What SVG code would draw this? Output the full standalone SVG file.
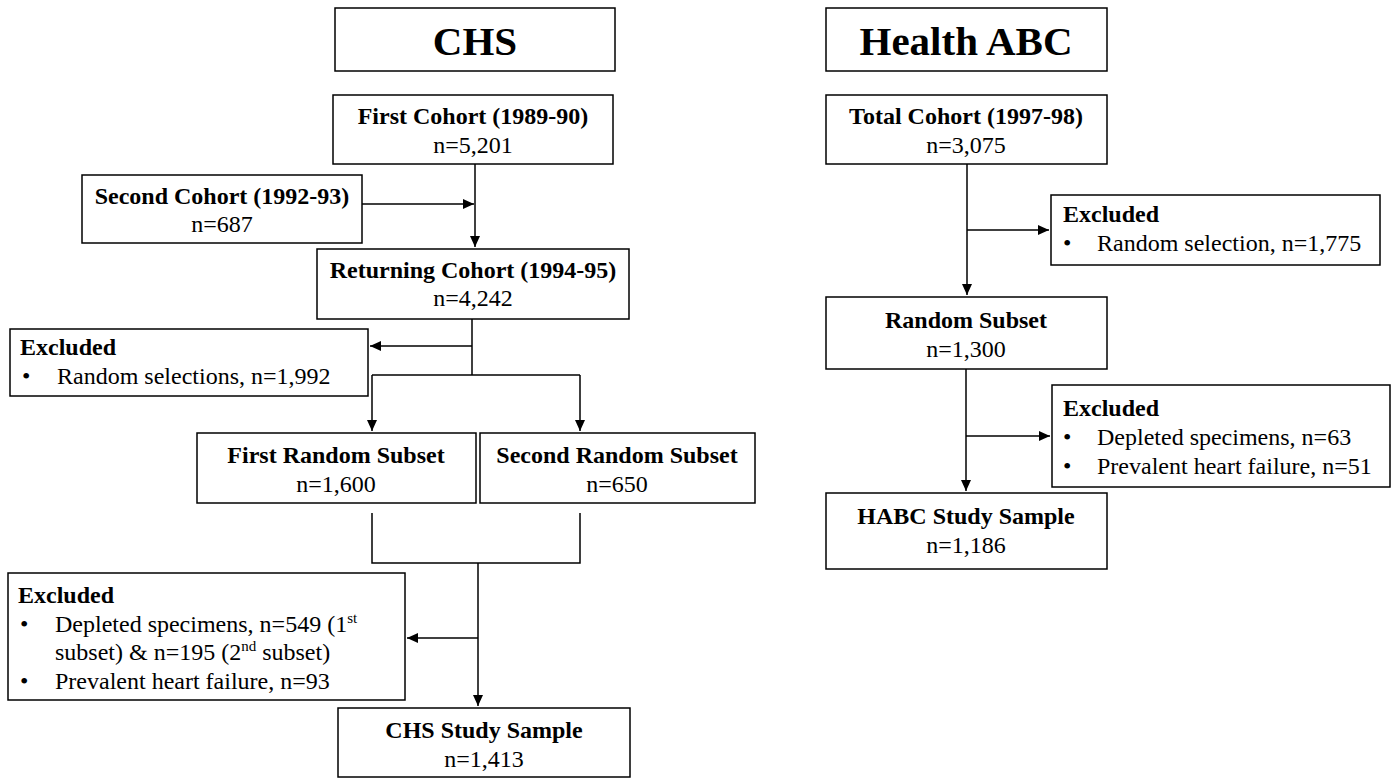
<svg xmlns="http://www.w3.org/2000/svg" width="1398" height="778" viewBox="0 0 1398 778">
<style>
.box{fill:#fff;stroke:#000;stroke-width:1.5}
.t{font-family:"Liberation Serif","Times New Roman",serif;font-size:24px;fill:#000}
.b{font-weight:bold}
.title{font-family:"Liberation Serif","Times New Roman",serif;font-size:41px;font-weight:bold;fill:#000}
.c{text-anchor:middle}
.ln{fill:none;stroke:#000;stroke-width:1.5}
.sup{font-size:15px}
</style>
<defs>
<marker id="ah" markerUnits="userSpaceOnUse" markerWidth="12" markerHeight="10" refX="11" refY="5" orient="auto">
<path d="M0,0 L11,5 L0,10 Z" fill="#000"/>
</marker>
</defs>
<rect width="1398" height="778" fill="#fff"/>
<g id="connectors">
<path class="ln" d="M475,164 V247" marker-end="url(#ah)"/>
<path class="ln" d="M362,204 H474" marker-end="url(#ah)"/>
<path class="ln" d="M472,319 V375"/>
<path class="ln" d="M472,346 H370" marker-end="url(#ah)"/>
<path class="ln" d="M372,375 H580"/>
<path class="ln" d="M372,375 V431" marker-end="url(#ah)"/>
<path class="ln" d="M580,375 V431" marker-end="url(#ah)"/>
<path class="ln" d="M372,513 V563 H580 V513"/>
<path class="ln" d="M478,563 V706" marker-end="url(#ah)"/>
<path class="ln" d="M478,638 H407" marker-end="url(#ah)"/>
<path class="ln" d="M967,164 V295" marker-end="url(#ah)"/>
<path class="ln" d="M967,230 H1049" marker-end="url(#ah)"/>
<path class="ln" d="M966,369 V491" marker-end="url(#ah)"/>
<path class="ln" d="M966,436 H1050" marker-end="url(#ah)"/>
</g>
<g id="chs-title">
<rect class="box" x="335" y="8" width="280" height="63"/>
<text class="title c" x="475" y="55">CHS</text>
</g>
<g id="habc-title">
<rect class="box" x="826" y="8" width="281" height="63"/>
<text class="title c" x="966" y="55">Health ABC</text>
</g>
<g id="first-cohort">
<rect class="box" x="333" y="95" width="280" height="69"/>
<text class="t b c" x="473" y="124">First Cohort (1989-90)</text>
<text class="t c" x="473" y="153">n=5,201</text>
</g>
<g id="second-cohort">
<rect class="box" x="82" y="175" width="280" height="68"/>
<text class="t b c" x="222" y="204">Second Cohort (1992-93)</text>
<text class="t c" x="222" y="232">n=687</text>
</g>
<g id="returning-cohort">
<rect class="box" x="317" y="249" width="312" height="70"/>
<text class="t b c" x="473" y="278">Returning Cohort (1994-95)</text>
<text class="t c" x="473" y="306">n=4,242</text>
</g>
<g id="chs-excluded-1">
<rect class="box" x="10" y="329" width="358" height="67"/>
<text class="t b" x="20" y="355">Excluded</text>
<text class="t" x="22" y="384">•</text>
<text class="t" x="57" y="384">Random selections, n=1,992</text>
</g>
<g id="first-random-subset">
<rect class="box" x="197" y="433" width="279" height="70"/>
<text class="t b c" x="336" y="463">First Random Subset</text>
<text class="t c" x="336" y="492">n=1,600</text>
</g>
<g id="second-random-subset">
<rect class="box" x="480" y="433" width="275" height="70"/>
<text class="t b c" x="617" y="463">Second Random Subset</text>
<text class="t c" x="617" y="492">n=650</text>
</g>
<g id="chs-excluded-2">
<rect class="box" x="8" y="573" width="397" height="127"/>
<text class="t b" x="18" y="603">Excluded</text>
<text class="t" x="20" y="632">•</text>
<text class="t" x="55" y="632">Depleted specimens, n=549 (1<tspan class="sup" dy="-9">st</tspan></text>
<text class="t" x="55" y="660">subset) &amp; n=195 (2<tspan class="sup" dy="-9">nd</tspan><tspan dy="9"> subset)</tspan></text>
<text class="t" x="20" y="689">•</text>
<text class="t" x="55" y="689">Prevalent heart failure, n=93</text>
</g>
<g id="chs-study-sample">
<rect class="box" x="338" y="708" width="292" height="69"/>
<text class="t b c" x="484" y="738">CHS Study Sample</text>
<text class="t c" x="484" y="767">n=1,413</text>
</g>
<g id="total-cohort">
<rect class="box" x="826" y="95" width="281" height="69"/>
<text class="t b c" x="966" y="124">Total Cohort (1997-98)</text>
<text class="t c" x="966" y="153">n=3,075</text>
</g>
<g id="habc-excluded-1">
<rect class="box" x="1051" y="195" width="329" height="70"/>
<text class="t b" x="1063" y="222">Excluded</text>
<text class="t" x="1063" y="251">•</text>
<text class="t" x="1097" y="251">Random selection, n=1,775</text>
</g>
<g id="random-subset">
<rect class="box" x="826" y="297" width="281" height="72"/>
<text class="t b c" x="966" y="328">Random Subset</text>
<text class="t c" x="966" y="357">n=1,300</text>
</g>
<g id="habc-excluded-2">
<rect class="box" x="1052" y="385" width="338" height="102"/>
<text class="t b" x="1063" y="416">Excluded</text>
<text class="t" x="1063" y="445">•</text>
<text class="t" x="1097" y="445">Depleted specimens, n=63</text>
<text class="t" x="1063" y="474">•</text>
<text class="t" x="1097" y="474">Prevalent heart failure, n=51</text>
</g>
<g id="habc-study-sample">
<rect class="box" x="826" y="493" width="281" height="76"/>
<text class="t b c" x="966" y="524">HABC Study Sample</text>
<text class="t c" x="966" y="553">n=1,186</text>
</g>
</svg>
